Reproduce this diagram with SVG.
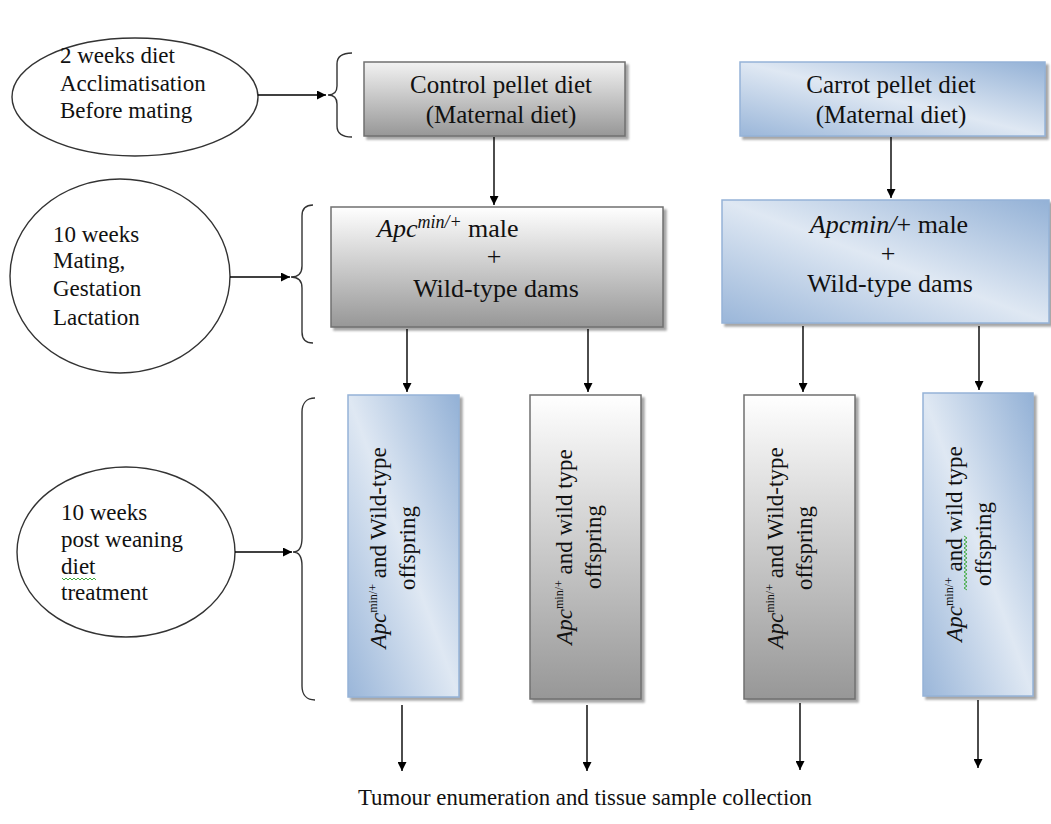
<svg xmlns="http://www.w3.org/2000/svg" width="1051" height="824" viewBox="0 0 1051 824">
<defs>
<linearGradient id="gray" x1="0" y1="0" x2="0" y2="1">
<stop offset="0" stop-color="#ffffff"/>
<stop offset="1" stop-color="#979797"/>
</linearGradient>
<linearGradient id="gray2" x1="0" y1="0" x2="0" y2="1">
<stop offset="0" stop-color="#f2f2f2"/>
<stop offset="1" stop-color="#979797"/>
</linearGradient>
<linearGradient id="blue" x1="0" y1="1" x2="1" y2="0">
<stop offset="0" stop-color="#9ab6d9"/>
<stop offset="0.5" stop-color="#dfe8f3"/>
<stop offset="1" stop-color="#93b1d6"/>
</linearGradient>
<filter id="sh" x="-10%" y="-10%" width="130%" height="130%">
<feDropShadow dx="3" dy="3" stdDeviation="1" flood-color="#808080" flood-opacity="0.7"/>
</filter>
<marker id="ah" viewBox="0 0 10 10" refX="10" refY="5" markerWidth="10" markerHeight="9" markerUnits="userSpaceOnUse" orient="auto">
<path d="M0,0 L10,5 L0,10 Z" fill="#000"/>
</marker>
</defs>
<style>
text{font-family:"Liberation Serif","Times New Roman",serif;fill:#111}
.el{fill:#fff;stroke:#333;stroke-width:1.4}
.et{font-size:23px}
.bt{font-size:25px;text-anchor:middle}
.b26{font-size:26px}
.gbox{fill:url(#gray);stroke:#707070;stroke-width:1.5;filter:url(#sh)}
.gbox2{fill:url(#gray2);stroke:#707070;stroke-width:1.5;filter:url(#sh)}
.bbox{fill:url(#blue);stroke:#95b3d7;stroke-width:1.5;filter:url(#sh)}
.vt{font-size:23px;text-anchor:middle}
.it{font-style:italic}
.ln{stroke:#000;stroke-width:1.4;fill:none}
.br{stroke:#333;stroke-width:1.4;fill:none}
.sq{stroke:#3faa3f;stroke-width:1;fill:none}
</style>

<g id="ellipse1">
<ellipse class="el" cx="135" cy="97" rx="123" ry="59"/>
<text class="et" x="60" y="63">2 weeks diet</text>
<text class="et" x="60" y="91">Acclimatisation</text>
<text class="et" x="60" y="118">Before mating</text>
</g>
<g id="ellipse2">
<ellipse class="el" cx="120" cy="276" rx="110" ry="97"/>
<text class="et" x="53" y="242">10 weeks</text>
<text class="et" x="53" y="268">Mating,</text>
<text class="et" x="53" y="296">Gestation</text>
<text class="et" x="53" y="325">Lactation</text>
</g>
<g id="ellipse3">
<ellipse class="el" cx="126" cy="552" rx="109" ry="85"/>
<text class="et" x="61" y="520">10 weeks</text>
<text class="et" x="61" y="547">post weaning</text>
<text class="et" x="61" y="574">diet</text>
<text class="et" x="61" y="600">treatment</text>
<path class="sq" d="M62,578 l2,2 l2,-2 l2,2 l2,-2 l2,2 l2,-2 l2,2 l2,-2 l2,2 l2,-2 l2,2 l2,-2 l2,2 l2,-2 l2,2 l2,-2 l2,2"/>
</g>

<g id="control-diet">
<rect class="gbox2" x="364" y="62" width="261" height="74"/>
<text class="bt" x="501" y="93">Control pellet diet</text>
<text class="bt" x="501" y="123">(Maternal diet)</text>
</g>
<g id="carrot-diet">
<rect class="bbox" x="740" y="62" width="305" height="74"/>
<text class="bt" x="891" y="93">Carrot pellet diet</text>
<text class="bt" x="891" y="123">(Maternal diet)</text>
</g>

<g id="mating-control">
<rect class="gbox" x="331" y="207" width="332" height="120"/>
<text class="b26" x="377" y="237"><tspan class="it">Apc</tspan><tspan class="it" font-size="18" dy="-9">min/+</tspan><tspan dy="9"> male</tspan></text>
<text class="bt b26" x="494" y="265">+</text>
<text class="bt b26" x="496" y="297">Wild-type dams</text>
</g>
<g id="mating-carrot">
<rect class="bbox" x="722" y="200" width="327" height="123"/>
<text class="bt b26" x="889" y="233"><tspan class="it">Apcmin/</tspan>+ male</text>
<text class="bt b26" x="888" y="262">+</text>
<text class="bt b26" x="890" y="292">Wild-type dams</text>
</g>

<g id="offspring1">
<rect class="bbox" x="348" y="395" width="111" height="302"/>
<g transform="translate(386,548) rotate(-90)">
<text class="vt" x="0" y="0"><tspan class="it">Apc</tspan><tspan font-size="12" dy="-9">min/+</tspan><tspan dy="9"> and Wild-type</tspan></text>
<text class="vt" x="0" y="29">offspring</text>
</g>
</g>
<g id="offspring2">
<rect class="gbox" x="530" y="395" width="111" height="304"/>
<g transform="translate(572,547) rotate(-90)">
<text class="vt" x="0" y="0"><tspan class="it">Apc</tspan><tspan font-size="12" dy="-9">min/+</tspan><tspan dy="9"> and wild type</tspan></text>
<text class="vt" x="0" y="29">offspring</text>
</g>
</g>
<g id="offspring3">
<rect class="gbox" x="744" y="395" width="111" height="304"/>
<g transform="translate(783,548) rotate(-90)">
<text class="vt" x="0" y="0"><tspan class="it">Apc</tspan><tspan font-size="12" dy="-9">min/+</tspan><tspan dy="9"> and Wild-type</tspan></text>
<text class="vt" x="0" y="29">offspring</text>
</g>
</g>
<g id="offspring4">
<rect class="bbox" x="923" y="393" width="110" height="303"/>
<g transform="translate(962,544) rotate(-90)">
<text class="vt" x="0" y="0"><tspan class="it">Apc</tspan><tspan font-size="12" dy="-9">min/+</tspan><tspan dy="9"> and wild type</tspan></text>
<text class="vt" x="0" y="29">offspring</text>
</g>
<path class="sq" d="M964,536 l3,2 l-3,2 l3,2 l-3,2 l3,2 l-3,2 l3,2 l-3,2 l3,2 l-3,2 l3,2 l-3,2 l3,2 l-3,2 l3,2 l-3,2 l3,2 l-3,2 l3,2 l-3,2 l3,2 l-3,2 l3,2 l-3,2 l3,2 l-3,2 l3,2"/>
</g>

<g id="result">
<text x="358" y="805" style="font-size:24px" textLength="454" lengthAdjust="spacingAndGlyphs">Tumour enumeration and tissue sample collection</text>
</g>

<g id="connectors">
<path class="br" d="M352,53 C343,53 337,56 337,64 L337,86 C337,92 334,95 328,95 C334,95 337,98 337,104 L337,126 C337,134 343,137 352,137"/>
<path class="br" d="M313,205 C306,205 302,209 302,216 L302,266 C302,273 298,277 291,277 C298,277 302,281 302,288 L302,332 C302,339 306,343 313,343"/>
<path class="br" d="M315,398 C307,398 302,403 302,412 L302,538 C302,547 299,552 293,552 C299,552 302,557 302,566 L302,686 C302,695 307,700 315,700"/>
<line class="ln" x1="258" y1="95" x2="326" y2="95" marker-end="url(#ah)"/>
<line class="ln" x1="230" y1="277" x2="290" y2="277" marker-end="url(#ah)"/>
<line class="ln" x1="235" y1="552" x2="292" y2="552" marker-end="url(#ah)"/>
<line class="ln" x1="494" y1="137" x2="494" y2="205" marker-end="url(#ah)"/>
<line class="ln" x1="891" y1="137" x2="891" y2="198" marker-end="url(#ah)"/>
<line class="ln" x1="407" y1="329" x2="407" y2="392" marker-end="url(#ah)"/>
<line class="ln" x1="588" y1="329" x2="588" y2="392" marker-end="url(#ah)"/>
<line class="ln" x1="803" y1="326" x2="803" y2="392" marker-end="url(#ah)"/>
<line class="ln" x1="979" y1="326" x2="979" y2="390" marker-end="url(#ah)"/>
<line class="ln" x1="402" y1="705" x2="402" y2="771" marker-end="url(#ah)"/>
<line class="ln" x1="587" y1="705" x2="587" y2="771" marker-end="url(#ah)"/>
<line class="ln" x1="800" y1="703" x2="800" y2="770" marker-end="url(#ah)"/>
<line class="ln" x1="978" y1="700" x2="978" y2="768" marker-end="url(#ah)"/>
</g>
</svg>
